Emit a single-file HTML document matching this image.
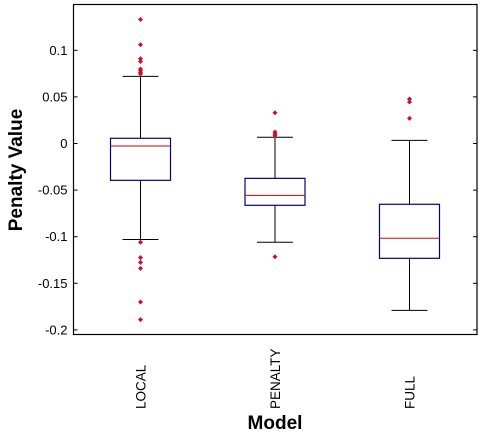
<!DOCTYPE html>
<html><head><meta charset="utf-8"><style>
html,body{margin:0;padding:0;background:#fff;}
svg{display:block;font-family:"Liberation Sans",Arial,sans-serif;}
</style></head><body>
<svg id="chart" width="484" height="441" viewBox="0 0 484 441" xmlns="http://www.w3.org/2000/svg">
<rect x="0" y="0" width="484" height="441" fill="#fff"/>
<g id="plot"></g>
<text transform="translate(22,170) rotate(-90)" text-anchor="middle" font-size="19" font-weight="bold">Penalty Value</text>
<text x="275" y="429" text-anchor="middle" font-size="19" font-weight="bold">Model</text>
</svg>
<script>
const categories = ["LOCAL","PENALTY","FULL"];
const q1Values = [-0.0395,-0.0663,-0.1232];
const medianValues = [-0.0027,-0.0556,-0.1017];
const q3Values = [0.0056,-0.0374,-0.0652];
const lowerWhiskers = [-0.103,-0.106,-0.179];
const upperWhiskers = [0.072,0.0067,0.0034];
const outlierValues = [
  [0.133,0.106,0.091,0.088,0.080,0.078,0.076,0.0746,-0.106,-0.1225,-0.1275,-0.134,-0.170,-0.189],
  [0.033,0.0123,0.0102,0.0084,-0.1215],
  [0.0477,0.0445,0.027]
];
const yTicks = [0.1,0.05,0,-0.05,-0.1,-0.15,-0.2];
const yTickLabels = ["0.1","0.05","0","-0.05","-0.1","-0.15","-0.2"];

const L=73.5,R=477,T=4.5,B=334.5;
const y = v => 143.5 - v*932;
const x = i => 140.5 + i*134.5;
const NS="http://www.w3.org/2000/svg";
const g=document.getElementById('plot');
function mk(tag,attrs){const e=document.createElementNS(NS,tag);for(const k in attrs)e.setAttribute(k,attrs[k]);g.appendChild(e);return e;}

let frame=mk('rect',{x:L,y:T,width:R-L,height:B-T,fill:'none',stroke:'#000','stroke-width':1.2});



yTicks.forEach((v,i)=>{
  let t1=mk('line',{x1:L,x2:L+4,y1:y(v),y2:y(v),stroke:'#000'});
  
  
  let t2=mk('line',{x1:R-4,x2:R,y1:y(v),y2:y(v),stroke:'#000'});
  
  
  let tl=mk('text',{x:L-6,y:y(v)+4.5,'text-anchor':'end','font-size':13});
  tl.textContent=yTickLabels[i];
  
  
});

categories.forEach((c,i)=>{
  const cx=x(i);
  let w1=mk('line',{x1:cx,x2:cx,y1:y(upperWhiskers[i]),y2:y(q3Values[i]),stroke:'#000'});
  
  
  let w2=mk('line',{x1:cx,x2:cx,y1:y(q1Values[i]),y2:y(lowerWhiskers[i]),stroke:'#000'});
  
  
  let c1=mk('line',{x1:cx-18,x2:cx+18,y1:y(upperWhiskers[i]),y2:y(upperWhiskers[i]),stroke:'#000'});
  
  
  let c2=mk('line',{x1:cx-18,x2:cx+18,y1:y(lowerWhiskers[i]),y2:y(lowerWhiskers[i]),stroke:'#000'});
  
  
  let b=mk('rect',{x:cx-30,y:y(q3Values[i]),width:60,height:y(q1Values[i])-y(q3Values[i]),fill:'#fff',stroke:'#00008b','stroke-width':1.2});
  
  
  let m=mk('line',{x1:cx-30,x2:cx+30,y1:y(medianValues[i]),y2:y(medianValues[i]),stroke:'#d00000'});
  
  
  outlierValues[i].forEach(v=>{
    let o=mk('path',{d:`M${cx} ${y(v)-2.5}L${cx+2.5} ${y(v)}L${cx} ${y(v)+2.5}L${cx-2.5} ${y(v)}Z`,fill:'#c8102e'});
    
    
  });
  let t=mk('text',{transform:`translate(${cx+5},409) rotate(-90)`,'text-anchor':'start','font-size':13.5});
  t.textContent=c;
  
  
});
</script>
</body></html>
